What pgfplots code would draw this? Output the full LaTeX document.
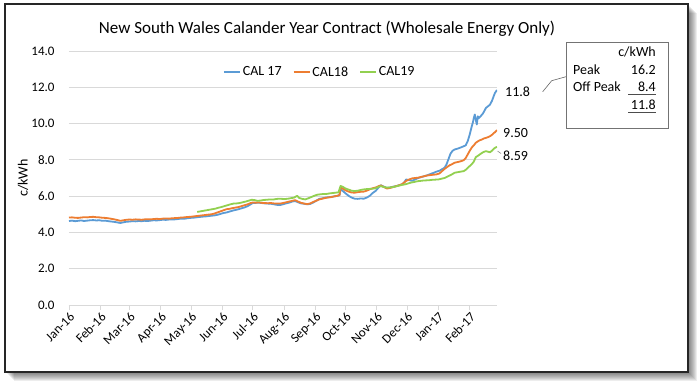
\documentclass[border=0pt]{standalone}
\usepackage{fontspec}
\setmainfont{Carlito}
\usepackage{pgfplots}
\pgfplotsset{compat=1.18}
\definecolor{cblue}{HTML}{5B9BD5}
\definecolor{corange}{HTML}{ED7D31}
\definecolor{cgreen}{HTML}{92D050}
\definecolor{cgrid}{HTML}{D9D9D9}
\begin{document}
\begin{tikzpicture}[x=1pt,y=1pt]
\useasboundingbox (0,0) rectangle (699,386);
% shadow
\foreach \k in {1,...,9} {
  \fill[black, opacity=0.07] (5+\k,14-\k) rectangle (688+\k,382-\k);
}
\fill[white] (5,14) rectangle (688,382);
\draw[line width=2.2pt, black!85] (5,14) rectangle (688,382);
\begin{axis}[
  at={(69pt,81pt)}, anchor=origin,
  width=428pt, height=254pt, scale only axis,
  xmin=0, xmax=424, ymin=0, ymax=14,
  axis lines=left,
  axis line style={-},
  x axis line style={cgrid, line width=0.8pt},
  y axis line style={draw=none},
  ytick={0,2,...,14},
  ymajorgrids,
  grid style={cgrid, line width=0.8pt},
  ytick style={draw=none},
  xtick={0,31,60,91,121,152,182,213,244,274,305,335,366,397},
  xticklabels={Jan-16,Feb-16,Mar-16,Apr-16,May-16,Jun-16,Jul-16,Aug-16,Sep-16,Oct-16,Nov-16,Dec-16,Jan-17,Feb-17},
  xtick style={cgrid, line width=0.8pt},
  tick align=outside,
  major tick length=5pt,
  xticklabel style={rotate=45, anchor=north east, font=\fontsize{13}{15}\selectfont, inner sep=1pt},
  yticklabel style={font=\fontsize{13}{15}\selectfont, xshift=-6pt},
  /pgf/number format/fixed,
  /pgf/number format/fixed zerofill,
  /pgf/number format/precision=1,
  /pgf/number format/assume math mode=true,
  legend style={at={(0.586,0.917)}, anchor=center, draw=none, fill=none,
    font=\fontsize{14}{16}\selectfont, legend columns=3,
    /tikz/every even column/.append style={column sep=9pt}},
  legend image code/.code={\draw[#1, line width=1.8pt] (0pt,0pt) -- (16pt,0pt);},
  no markers,
  every axis plot/.append style={line width=1.8pt, line join=round},
]
\addplot[cblue] coordinates {
(0,4.63) (3,4.65) (6,4.62) (9,4.64) (12,4.66) (15,4.63) (18,4.65) (21,4.67) (24,4.68) (27,4.66)
(30,4.67) (33,4.64) (36,4.65) (39,4.62) (42,4.60) (45,4.58) (48,4.55) (51,4.52) (54,4.56) (57,4.59)
(60,4.60) (63,4.62) (66,4.61) (69,4.63) (72,4.62) (75,4.64) (78,4.63) (81,4.65) (84,4.67) (87,4.66)
(90,4.68) (93,4.70) (96,4.69) (99,4.71) (102,4.72) (105,4.72) (108,4.74) (111,4.76) (114,4.75) (117,4.78)
(120,4.80) (123,4.81) (126,4.83) (129,4.85) (132,4.87) (135,4.88) (138,4.90) (141,4.92) (144,4.94) (147,4.97)
(150,5.02) (153,5.07) (156,5.10) (159,5.15) (162,5.20) (165,5.24) (168,5.28) (171,5.33) (174,5.38) (177,5.45)
(180,5.55) (182,5.62) (185,5.63) (188,5.64) (191,5.62) (194,5.60) (197,5.59) (200,5.58) (203,5.55) (206,5.52)
(209,5.51) (212,5.55) (215,5.60) (218,5.64) (221,5.70) (224,5.73) (227,5.66) (230,5.60) (233,5.58) (236,5.55)
(239,5.57) (242,5.65) (245,5.75) (248,5.85) (251,5.88) (254,5.92) (257,5.94) (260,5.96) (263,5.99) (266,6.02)
(268,6.05) (269,6.38) (271,6.30) (274,6.15) (277,6.02) (280,5.92) (283,5.86) (286,5.85) (289,5.87) (292,5.86)
(295,5.92) (298,6.02) (301,6.18) (304,6.30) (307,6.50) (309,6.60) (312,6.52) (315,6.45) (318,6.48) (321,6.52)
(324,6.55) (327,6.60) (330,6.65) (332,6.75) (334,6.92) (337,6.88) (340,6.85) (343,6.92) (346,7.00) (349,7.05)
(352,7.10) (355,7.15) (358,7.22) (361,7.28) (364,7.35) (367,7.40) (370,7.50) (372,7.56) (374,7.75) (376,8.05)
(378,8.35) (380,8.50) (382,8.57) (385,8.62) (388,8.68) (391,8.75) (393,8.80) (395,9.03) (397,9.40) (399,9.85)
(400,10.04) (401,10.30) (402,10.50) (403,10.20) (404,9.95) (405,10.40) (406,10.30) (408,10.42) (410,10.55) (412,10.75)
(413,10.86) (415,10.95) (417,11.04) (419,11.25) (421,11.55) (422,11.69) (424,11.85)
};
\addlegendentry{CAL 17}
\addplot[corange] coordinates {
(0,4.82) (3,4.83) (6,4.81) (9,4.80) (12,4.82) (15,4.84) (18,4.83) (21,4.85) (24,4.86) (27,4.84)
(30,4.83) (33,4.81) (36,4.80) (39,4.78) (42,4.75) (45,4.72) (48,4.68) (51,4.64) (54,4.67) (57,4.70)
(60,4.71) (63,4.70) (66,4.72) (69,4.71) (72,4.70) (75,4.72) (78,4.73) (81,4.72) (84,4.74) (87,4.75)
(90,4.74) (93,4.76) (96,4.77) (99,4.76) (102,4.78) (105,4.79) (108,4.80) (111,4.82) (114,4.83) (117,4.85)
(120,4.86) (123,4.88) (126,4.90) (129,4.92) (132,4.94) (135,4.96) (138,4.98) (141,5.00) (144,5.04) (147,5.10)
(150,5.16) (153,5.22) (156,5.28) (159,5.30) (162,5.34) (165,5.37) (168,5.40) (171,5.45) (174,5.50) (177,5.55)
(180,5.62) (182,5.65) (185,5.64) (188,5.65) (191,5.63) (194,5.62) (197,5.61) (200,5.62) (203,5.60) (206,5.59)
(209,5.59) (212,5.62) (215,5.66) (218,5.70) (221,5.74) (224,5.78) (227,5.70) (230,5.63) (233,5.59) (236,5.56)
(239,5.60) (242,5.68) (245,5.75) (248,5.82) (251,5.86) (254,5.90) (257,5.93) (260,5.95) (263,5.99) (266,6.02)
(268,6.06) (269,6.48) (271,6.42) (274,6.32) (277,6.25) (280,6.20) (283,6.19) (286,6.22) (289,6.24) (292,6.25)
(295,6.30) (298,6.38) (301,6.44) (304,6.48) (307,6.56) (309,6.59) (312,6.50) (315,6.42) (318,6.45) (321,6.50)
(324,6.55) (327,6.60) (330,6.66) (332,6.75) (334,6.84) (337,6.92) (340,6.98) (343,7.00) (346,7.02) (349,7.06)
(352,7.10) (355,7.14) (358,7.16) (361,7.18) (364,7.20) (367,7.25) (370,7.40) (372,7.50) (375,7.62) (377,7.70)
(379,7.75) (382,7.84) (385,7.88) (388,7.92) (391,7.98) (393,8.10) (395,8.30) (397,8.50) (399,8.68) (401,8.80)
(403,8.94) (405,9.02) (407,9.08) (409,9.12) (411,9.18) (413,9.21) (415,9.25) (417,9.30) (419,9.38) (421,9.49)
(422,9.52) (424,9.64)
};
\addlegendentry{CAL18}
\addplot[cgreen] coordinates {
(127,5.13) (130,5.16) (133,5.19) (136,5.22) (139,5.25) (142,5.28) (145,5.31) (148,5.36) (151,5.40) (154,5.45)
(157,5.50) (160,5.55) (163,5.59) (166,5.60) (169,5.62) (172,5.66) (175,5.70) (178,5.75) (181,5.80) (184,5.78)
(187,5.74) (190,5.76) (193,5.79) (196,5.80) (199,5.82) (202,5.81) (205,5.84) (208,5.86) (211,5.85) (214,5.84)
(217,5.86) (220,5.89) (223,5.92) (226,6.02) (228,5.90) (231,5.85) (234,5.82) (237,5.88) (240,5.95) (243,6.02)
(246,6.08) (249,6.10) (252,6.12) (255,6.12) (258,6.15) (261,6.17) (264,6.19) (267,6.21) (269,6.56) (271,6.52)
(274,6.42) (277,6.36) (280,6.30) (283,6.28) (286,6.30) (289,6.34) (292,6.37) (295,6.39) (298,6.40) (301,6.41)
(304,6.44) (307,6.52) (309,6.55) (312,6.50) (315,6.47) (318,6.48) (321,6.50) (324,6.54) (327,6.58) (330,6.62)
(333,6.65) (336,6.70) (339,6.75) (342,6.78) (345,6.82) (348,6.84) (351,6.86) (354,6.87) (357,6.88) (360,6.90)
(363,6.91) (366,6.92) (369,6.96) (372,7.00) (375,7.08) (378,7.16) (380,7.22) (382,7.29) (385,7.32) (388,7.35)
(391,7.38) (393,7.45) (395,7.56) (397,7.66) (399,7.76) (401,7.90) (403,8.15) (405,8.22) (407,8.30) (409,8.38)
(411,8.44) (413,8.48) (415,8.45) (417,8.42) (419,8.50) (421,8.62) (422,8.66) (424,8.72)
};
\addlegendentry{CAL19}
\end{axis}
% title and labels
\node[font=\fontsize{17}{19}\selectfont, anchor=base] at (327,352) {New South Wales Calander Year Contract (Wholesale Energy Only)};
\node[font=\fontsize{14}{16}\selectfont, rotate=90] at (23,208) {c/kWh};
\node[font=\fontsize{14}{16}\selectfont, anchor=base west, inner sep=0pt] at (505,289.5) {11.8};
\node[font=\fontsize{14}{16}\selectfont, anchor=base west, inner sep=0pt] at (503,248.5) {9.50};
\node[font=\fontsize{14}{16}\selectfont, anchor=base west, inner sep=0pt] at (503,225.5) {8.59};
\draw[black!45, line width=0.6pt] (497.5,235) -- (501,232.5);
% leader to box
\draw[black!60, line width=0.6pt] (542.7,294.3) -- (551.7,305.3) -- (566,309.3);
% box
\draw[black!55, line width=0.9pt] (566,258) rectangle (668,344);
\begin{scope}[every node/.style={font=\fontsize{14}{16}\selectfont, inner sep=0pt}]
\node[anchor=base east] at (656,329.2) {c/kWh};
\node[anchor=base west] at (573,311.6) {Peak};
\node[anchor=base east] at (656,311.6) {16.2};
\node[anchor=base west] at (573,294) {Off Peak};
\node[anchor=base east] at (656,294) {8.4};
\node[anchor=base east] at (656,276.4) {11.8};
\end{scope}
\draw[black!70, line width=0.7pt] (628,291.2) -- (656,291.2);
\draw[black!70, line width=0.7pt] (628,273.6) -- (656,273.6);
\end{tikzpicture}
\end{document}
